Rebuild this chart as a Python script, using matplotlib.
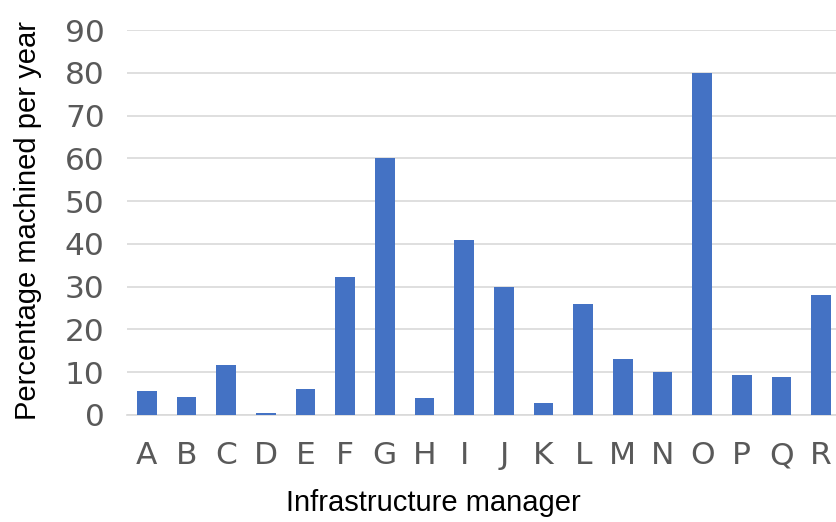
import numpy as np
import matplotlib
matplotlib.use("Agg")
import matplotlib.pyplot as plt

# data
managers = list("ABCDEFGHIJKLMNOPQR")
pct_machined = [5.5, 4.1, 11.8, 0.5, 6.1, 32.3, 60, 4.0, 41, 30,
                2.9, 26, 13, 10, 80, 9.3, 9.0, 28.1]
yticks = np.arange(0, 100, 10)

W, H = 837, 522
fig = plt.figure(figsize=(W / 100, H / 100), dpi=100)
# axes spans x 127..841 px (clipped on the right), y 30..415 px
ax = fig.add_axes([127 / W, (H - 415) / H, (841 - 127) / W, (415 - 30) / H])

x = np.arange(len(managers))
ax.bar(x, pct_machined, width=0.5, color="#4472C4", zorder=3)

ax.set_xlim(-0.5, len(managers) - 0.5)
ax.set_ylim(0, 90)
ax.set_yticks(yticks)
ax.set_xticks(x)
ax.set_xticklabels(managers)

ax.grid(axis="y", color="#d9d9d9", linewidth=1.2, zorder=0)
for s in ["top", "right", "left"]:
    ax.spines[s].set_visible(False)
ax.spines["bottom"].set_color("#d9d9d9")
ax.spines["bottom"].set_linewidth(1.2)
ax.tick_params(length=0, labelsize=22.5, labelcolor="#595959")
ax.tick_params(axis="y", pad=16)
ax.tick_params(axis="x", pad=19)

fig.text(433 / W, 1 - 503 / H, "Infrastructure manager", ha="center", va="center",
         fontsize=21, family="Liberation Sans", color="black")
fig.text(28 / W, 1 - 221 / H, "Percentage machined per year", ha="center", va="center",
         rotation=90, fontsize=21, family="Liberation Sans", color="black")

fig.savefig("out.png", dpi=100)
